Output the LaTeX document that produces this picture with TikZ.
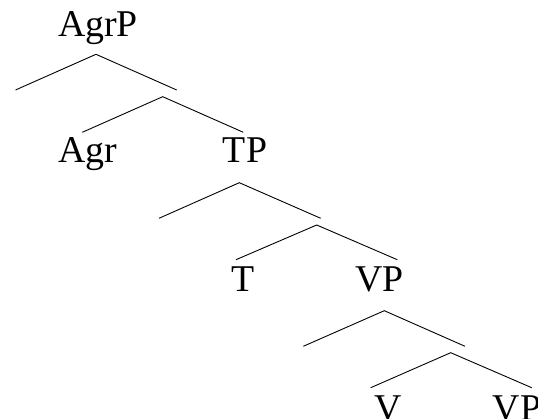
\documentclass[tikz,border=0pt]{standalone}
\usepackage{fontspec}
\setmainfont{Liberation Serif}

\begin{document}
\begin{tikzpicture}[x=1pt, y=-1pt, line width=0.9pt,
    cat/.style={font=\fontsize{37.8}{40}\selectfont, anchor=base, inner sep=0pt}]
            \useasboundingbox (0, 0) rectangle (538, 419);
            % labels
            \node[cat] (agrp) at (98, 37) {AgrP};
            \node[cat] (agr) at (88, 163) {Agr};
            \node[cat] (tp) at (245, 163) {TP};
            \node[cat] (t) at (243, 291.5) {T};
            \node[cat] (vp) at (379.5, 291.5) {VP};
            \node[cat] (v) at (388, 420) {V};
            \node[cat] (vpb) at (517, 420) {VP};
            % AgrP
            \coordinate (a1) at (96, 54.3);
            \coordinate (a1l) at (15.5, 90);
            \coordinate (a1r) at (176.7, 90);
            \coordinate (a2) at (162.7, 96.7);
            \coordinate (a2l) at (82.3, 132.3);
            \coordinate (a2r) at (243.3, 132.3);
            \draw (a1l) -- (a1) -- (a1r);
            \draw (a2l) -- (a2) -- (a2r);
            % TP
            \coordinate (t1) at (239.3, 182.7);
            \coordinate (t1l) at (159, 218.3);
            \coordinate (t1r) at (320.7, 218.3);
            \coordinate (t2) at (316.7, 225);
            \coordinate (t2l) at (236, 259.7);
            \coordinate (t2r) at (397.3, 259.7);
            \draw (t1l) -- (t1) -- (t1r);
            \draw (t2l) -- (t2) -- (t2r);
            % VP
            \coordinate (v1) at (384.3, 310.7);
            \coordinate (v1l) at (303.3, 346.3);
            \coordinate (v1r) at (465, 346.3);
            \coordinate (v2) at (450.7, 352.7);
            \coordinate (v2l) at (370.7, 387.7);
            \coordinate (v2r) at (531.7, 387.7);
            \draw (v1l) -- (v1) -- (v1r);
            \draw (v2l) -- (v2) -- (v2r);
        \end{tikzpicture}
\end{document}
